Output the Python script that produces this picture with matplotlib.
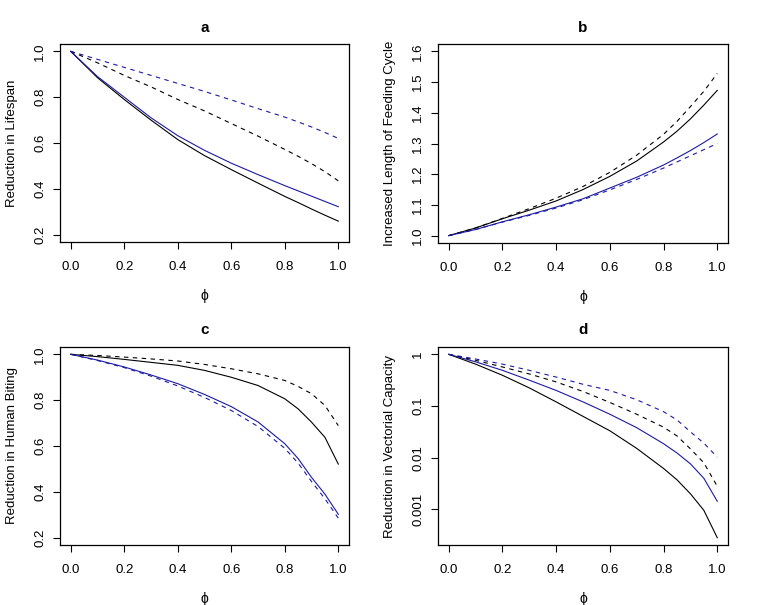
import numpy as np
import matplotlib
matplotlib.use("Agg")
import matplotlib.pyplot as plt

plt.rcParams["font.family"] = ["Liberation Sans", "DejaVu Sans"]

# ----------------------------
# Data
# ----------------------------

phi = [0.0, 0.1, 0.2, 0.3, 0.4, 0.5, 0.6, 0.7, 0.8, 0.85, 0.9, 0.95, 1.0]

# panel a : Reduction in Lifespan
a_black_solid = [1, 0.885, 0.79, 0.70, 0.615, 0.545, 0.484, 0.425, 0.367, 0.34, 0.312, 0.285, 0.259]
a_blue_solid = [1, 0.89, 0.80, 0.71, 0.632, 0.568, 0.512, 0.462, 0.414, 0.391, 0.368, 0.345, 0.322]
a_black_dash = [1, 0.95, 0.895, 0.845, 0.79, 0.74, 0.685, 0.63, 0.572, 0.542, 0.51, 0.475, 0.435]
a_blue_dash = [1, 0.965, 0.93, 0.895, 0.86, 0.825, 0.788, 0.75, 0.713, 0.692, 0.67, 0.646, 0.62]

# panel b : Increased Length of Feeding Cycle
b_black_solid = [1, 1.025, 1.055, 1.083, 1.113, 1.15, 1.193, 1.243, 1.305, 1.34, 1.38, 1.425, 1.473]
b_black_dash = [1, 1.025, 1.056, 1.088, 1.122, 1.16, 1.206, 1.262, 1.33, 1.372, 1.42, 1.47, 1.528]
b_blue_solid = [1, 1.02, 1.045, 1.068, 1.093, 1.12, 1.155, 1.19, 1.23, 1.253, 1.277, 1.303, 1.331]
b_blue_dash = [1, 1.02, 1.044, 1.066, 1.09, 1.117, 1.149, 1.183, 1.22, 1.24, 1.26, 1.28, 1.300]

# panel c : Reduction in Human Biting
c_black_dash = [1, 0.995, 0.988, 0.98, 0.971, 0.956, 0.937, 0.915, 0.886, 0.86, 0.828, 0.777, 0.689]
c_black_solid = [1, 0.99, 0.978, 0.965, 0.952, 0.93, 0.90, 0.864, 0.806, 0.762, 0.704, 0.638, 0.521]
c_blue_solid = [1, 0.975, 0.945, 0.91, 0.872, 0.825, 0.772, 0.705, 0.61, 0.545, 0.463, 0.39, 0.302]
c_blue_dash = [1, 0.973, 0.942, 0.905, 0.862, 0.812, 0.755, 0.685, 0.59, 0.525, 0.445, 0.37, 0.285]

# panel d : Reduction in Vectorial Capacity (log scale)
d_black_solid = [1, 0.646, 0.393, 0.224, 0.120, 0.063, 0.0331, 0.0151, 0.00617, 0.00372, 0.0020, 0.000955, 0.000282]
d_blue_solid = [1, 0.716, 0.490, 0.316, 0.200, 0.120, 0.0692, 0.0380, 0.0186, 0.0123, 0.00759, 0.00398, 0.00143]
d_black_dash = [1, 0.767, 0.569, 0.417, 0.292, 0.191, 0.117, 0.0692, 0.0389, 0.0263, 0.0148, 0.00794, 0.00279]
d_blue_dash = [1, 0.813, 0.646, 0.490, 0.363, 0.263, 0.200, 0.132, 0.0776, 0.0537, 0.0316, 0.0191, 0.0102]

x_ticks = [0.0, 0.2, 0.4, 0.6, 0.8, 1.0]
x_ticklabels = ["0.0", "0.2", "0.4", "0.6", "0.8", "1.0"]

BLUE = "#1a1aa8"
LW = 0.8
DASH = (4, 4)

# ----------------------------
# Figure
# ----------------------------

fig = plt.figure(figsize=(7.58, 6.05), dpi=100)

W, H = 758, 605


def make_axes(left, top, right, bottom):
    return fig.add_axes([left / W, 1 - bottom / H, (right - left) / W, (bottom - top) / H])


ax_a = make_axes(60, 44, 349, 242)
ax_b = make_axes(438, 44, 728, 243)
ax_c = make_axes(60, 347, 349, 545)
ax_d = make_axes(438, 347, 728, 545)


def draw(ax, black_solid, blue_solid, black_dash, blue_dash):
    ax.plot(phi, black_solid, color="black", lw=LW)
    ax.plot(phi, blue_solid, color=BLUE, lw=LW)
    ax.plot(phi, black_dash, color="black", lw=LW, dashes=DASH)
    ax.plot(phi, blue_dash, color=BLUE, lw=LW, dashes=DASH)


def style(ax, title, ylabel, yticks, yticklabels):
    ax.set_xlim(-0.04, 1.04)
    ax.set_xticks(x_ticks)
    ax.set_xticklabels(x_ticklabels)
    ax.set_yticks(yticks)
    ax.set_yticklabels(yticklabels)
    ax.tick_params(direction="out", length=5, width=0.8, labelsize=9.5, pad=9)
    ax.tick_params(axis="y", pad=5)
    for lab in ax.get_yticklabels():
        lab.set_rotation(90)
        lab.set_va("center")
    for sp in ax.spines.values():
        sp.set_linewidth(0.9)
    ax.set_title(title, fontweight="bold", fontsize=11, pad=9)
    ax.set_ylabel(ylabel, fontsize=9.5)
    ax.yaxis.set_label_coords(-0.145, 0.5)
    ax.set_xlabel("ϕ", fontsize=10)
    ax.xaxis.set_label_coords(0.5, -0.235)


draw(ax_a, a_black_solid, a_blue_solid, a_black_dash, a_blue_dash)
ax_a.set_ylim(0.2 - 0.032, 1.0 + 0.032)
style(ax_a, "a", "Reduction in Lifespan", [0.2, 0.4, 0.6, 0.8, 1.0],
      ["0.2", "0.4", "0.6", "0.8", "1.0"])

draw(ax_b, b_black_solid, b_blue_solid, b_black_dash, b_blue_dash)
ax_b.set_ylim(1.0 - 0.024, 1.6 + 0.024)
style(ax_b, "b", "Increased Length of Feeding Cycle",
      [1.0, 1.1, 1.2, 1.3, 1.4, 1.5, 1.6],
      ["1.0", "1.1", "1.2", "1.3", "1.4", "1.5", "1.6"])

draw(ax_c, c_black_solid, c_blue_solid, c_black_dash, c_blue_dash)
ax_c.set_ylim(0.2 - 0.032, 1.0 + 0.032)
style(ax_c, "c", "Reduction in Human Biting", [0.2, 0.4, 0.6, 0.8, 1.0],
      ["0.2", "0.4", "0.6", "0.8", "1.0"])

draw(ax_d, d_black_solid, d_blue_solid, d_black_dash, d_blue_dash)
ax_d.set_yscale("log")
lo = np.log10(min(d_black_solid))
pad = 0.04 * (0 - lo)
ax_d.set_ylim(10 ** (lo - pad), 10 ** pad)
style(ax_d, "d", "Reduction in Vectorial Capacity", [1, 0.1, 0.01, 0.001],
      ["1", "0.1", "0.01", "0.001"])
ax_d.yaxis.set_minor_locator(matplotlib.ticker.NullLocator())

fig.savefig("out.png", dpi=100)
